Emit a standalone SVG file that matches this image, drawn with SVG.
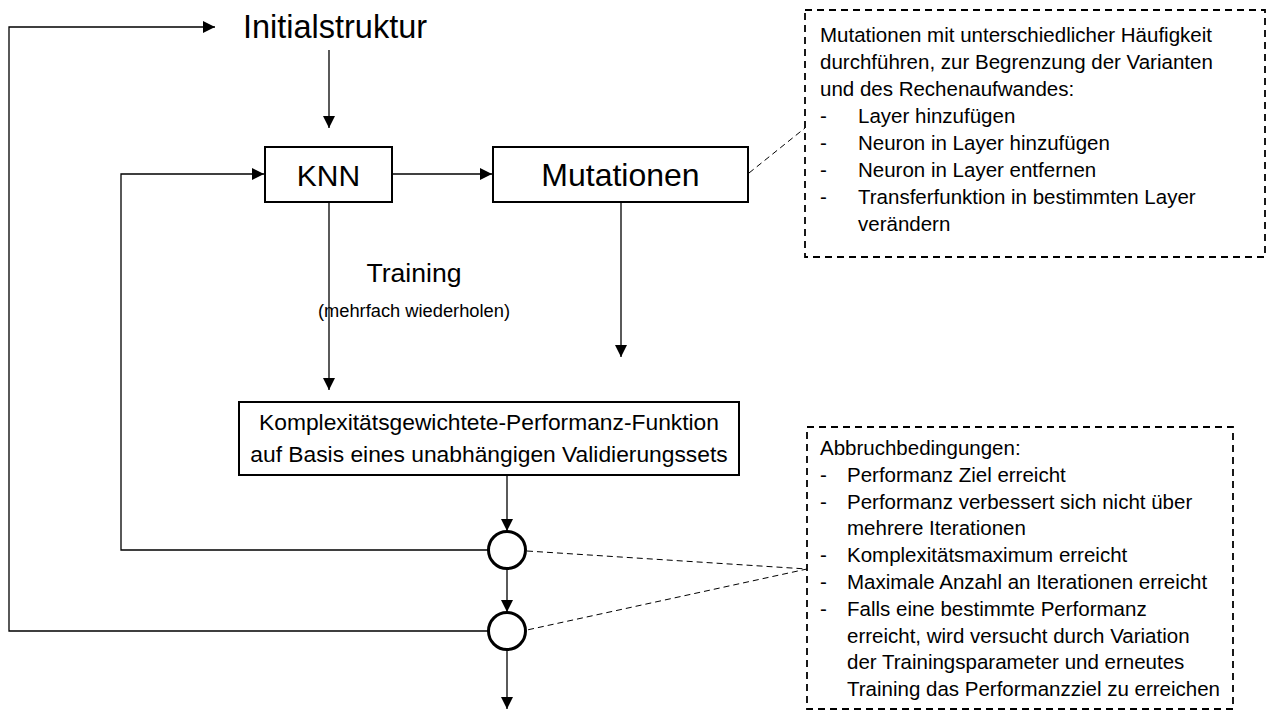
<svg xmlns="http://www.w3.org/2000/svg" width="1271" height="711" viewBox="0 0 1271 711">
<style>
text{font-family:"Liberation Sans",Arial,sans-serif;fill:#000}
.box{fill:#fff;stroke:#000;stroke-width:2}
.circ{fill:#fff;stroke:#000;stroke-width:3}
.conn{fill:none;stroke:#000;stroke-width:1.3}
.dash{fill:none;stroke:#000;stroke-width:1;stroke-dasharray:6 4}
.call{fill:#fff;stroke:#000;stroke-width:1.8;stroke-dasharray:7 5}
.t30{font-size:30px}
.t23{font-size:22.8px}
.t20{font-size:20.5px}
</style>
<defs>
<marker id="ah" markerUnits="userSpaceOnUse" markerWidth="12" markerHeight="12" viewBox="0 0 10 10" refX="10" refY="5" orient="auto">
<path d="M0,0 L10,5 L0,10 z" fill="#000"/>
</marker>
</defs>
<g id="connectors">
<path class="conn" d="M329,50 V128" marker-end="url(#ah)"/>
<path class="conn" d="M392,174 H492" marker-end="url(#ah)"/>
<path class="conn" d="M329,202 V390" marker-end="url(#ah)"/>
<path class="conn" d="M621,202 V357" marker-end="url(#ah)"/>
<path class="conn" d="M507,475 V531" marker-end="url(#ah)"/>
<path class="conn" d="M507,569 V612" marker-end="url(#ah)"/>
<path class="conn" d="M507,650 V709" marker-end="url(#ah)"/>
<path class="conn" d="M488,550 H121 V174 H264" marker-end="url(#ah)"/>
<path class="conn" d="M488,631 H9 V27 H215" marker-end="url(#ah)"/>
<path class="dash" d="M749,173 L805,128"/>
<path class="dash" d="M527,551 L807,569 L527,630"/>
</g>
<g id="initial">
<text class="t30" x="335" y="38" text-anchor="middle" style="font-size:32.5px">Initialstruktur</text>
</g>
<g id="knn">
<rect class="box" x="265" y="147" width="127" height="55"/>
<text class="t30" x="328.5" y="186" text-anchor="middle">KNN</text>
</g>
<g id="mutationen">
<rect class="box" x="493" y="147" width="255" height="55"/>
<text class="t30" x="620.5" y="186" text-anchor="middle" style="font-size:32px">Mutationen</text>
</g>
<g id="training">
<text x="414" y="282" text-anchor="middle" style="font-size:26.6px">Training</text>
<text x="414" y="317" text-anchor="middle" style="font-size:18.3px">(mehrfach wiederholen)</text>
</g>
<g id="performanz">
<rect class="box" x="239" y="402" width="500" height="73"/>
<text class="t23" x="489" y="430" text-anchor="middle">Komplexitätsgewichtete-Performanz-Funktion</text>
<text class="t23" x="489" y="462" text-anchor="middle">auf Basis eines unabhängigen Validierungssets</text>
</g>
<g id="check1">
<circle class="circ" cx="507" cy="550" r="18.5"/>
</g>
<g id="check2">
<circle class="circ" cx="507" cy="631" r="18.5"/>
</g>
<g id="note-mutationen">
<rect class="call" x="805" y="10" width="460" height="247"/>
<g class="t20">
<text x="820" y="42">Mutationen mit unterschiedlicher Häufigkeit</text>
<text x="820" y="69">durchführen, zur Begrenzung der Varianten</text>
<text x="820" y="96">und des Rechenaufwandes:</text>
<text x="820" y="123">-</text><text x="858" y="123">Layer hinzufügen</text>
<text x="820" y="150">-</text><text x="858" y="150">Neuron in Layer hinzufügen</text>
<text x="820" y="177">-</text><text x="858" y="177">Neuron in Layer entfernen</text>
<text x="820" y="204">-</text><text x="858" y="204">Transferfunktion in bestimmten Layer</text>
<text x="858" y="231">verändern</text>
</g>
</g>
<g id="note-abbruch">
<rect class="call" x="807" y="427" width="426" height="282"/>
<g class="t20">
<text x="820" y="455">Abbruchbedingungen:</text>
<text x="820" y="482">-</text><text x="847" y="482">Performanz Ziel erreicht</text>
<text x="820" y="509">-</text><text x="847" y="509">Performanz verbessert sich nicht über</text>
<text x="847" y="535">mehrere Iterationen</text>
<text x="820" y="562">-</text><text x="847" y="562">Komplexitätsmaximum erreicht</text>
<text x="820" y="589">-</text><text x="847" y="589">Maximale Anzahl an Iterationen erreicht</text>
<text x="820" y="616">-</text><text x="847" y="616">Falls eine bestimmte Performanz</text>
<text x="847" y="643">erreicht, wird versucht durch Variation</text>
<text x="847" y="669">der Trainingsparameter und erneutes</text>
<text x="847" y="696">Training das Performanzziel zu erreichen</text>
</g>
</g>
</svg>
